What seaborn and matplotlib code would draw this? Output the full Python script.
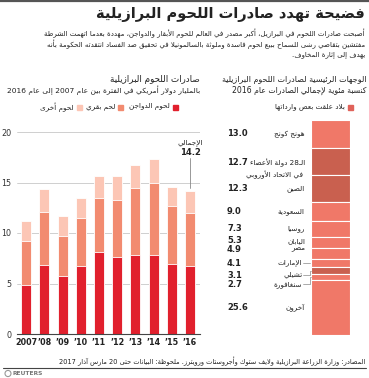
import re
import matplotlib
matplotlib.use("Agg")
import matplotlib.pyplot as plt
import matplotlib.transforms as mtransforms
import numpy as np
import pandas as pd
import seaborn as sns

# ---- dane ----
years = ["2007", "’08", "’09", "’10", "’11", "’12", "’13", "’14", "’15", "’16"]
poultry = [4.9, 6.8, 5.7, 6.7, 8.1, 7.6, 7.8, 7.8, 6.9, 6.7]
beef = [4.3, 5.3, 4.0, 4.8, 5.4, 5.7, 6.7, 7.2, 5.8, 5.3]
other = [2.0, 2.3, 1.95, 2.0, 2.1, 2.3, 2.2, 2.3, 1.9, 2.2]
total_2016 = "14.2"

countries = ["هونج كونج", "الـ28 دولة الأعضاء\nفي الاتحاد الأوروبي", "الصين", "السعودية",
             "روسيا", "اليابان", "مصر", "الإمارات", "تشيلي", "سنغافورة", "آخرون"]
shares = [13.0, 12.7, 12.3, 9.0, 7.3, 5.3, 4.9, 4.1, 3.1, 2.7, 25.6]
banned = [False, True, True, False, False, False, False, False, True, False, False]

title = "فضيحة تهدد صادرات اللحوم البرازيلية"
intro = ["أصبحت صادرات اللحوم في البرازيل، أكبر مصدر في العالم للحوم الأبقار والدواجن، مهددة بعدما اتهمت الشرطة",
         "مفتشين بتقاضي رشى للسماح ببيع لحوم فاسدة وملوثة بالسالمونيلا في تحقيق ضد الفساد انتقدته الحكومة بأنه",
         "يهدف إلى إثارة المخاوف."]
left_title = "صادرات اللحوم البرازيلية"
left_sub = "بالمليار دولار أمريكي في الفترة بين عام 2007 إلى عام 2016"
legend_names = ["لحوم الدواجن", "لحم بقري", "لحوم أخرى"]
total_word = "الإجمالي"
right_title = "الوجهات الرئيسية لصادرات اللحوم البرازيلية"
right_sub = "كنسبة مئوية لإجمالي الصادرات عام 2016"
right_legend = "بلاد علقت بعض وارداتها"
footer = "المصادر: وزارة الزراعة البرازيلية ولايف ستوك وأجروستات ورويترز. ملحوظة: البيانات حتى 20 مارس آذار 2017"

c_red = "#e1202d"
c_beef = "#f28b70"
c_other = "#fcc6b5"
c_dest = "#f07868"
c_ban = "#c9604f"

# ---- arabski: ksztalty liter + kolejnosc od prawej ----
_letters = [("ء", 0xFE80, 1), ("آ", 0xFE81, 2), ("أ", 0xFE83, 2), ("ؤ", 0xFE85, 2), ("إ", 0xFE87, 2),
            ("ئ", 0xFE89, 4), ("ا", 0xFE8D, 2), ("ب", 0xFE8F, 4), ("ة", 0xFE93, 2), ("ت", 0xFE95, 4),
            ("ث", 0xFE99, 4), ("ج", 0xFE9D, 4), ("ح", 0xFEA1, 4), ("خ", 0xFEA5, 4), ("د", 0xFEA9, 2),
            ("ذ", 0xFEAB, 2), ("ر", 0xFEAD, 2), ("ز", 0xFEAF, 2), ("س", 0xFEB1, 4), ("ش", 0xFEB5, 4),
            ("ص", 0xFEB9, 4), ("ض", 0xFEBD, 4), ("ط", 0xFEC1, 4), ("ظ", 0xFEC5, 4), ("ع", 0xFEC9, 4),
            ("غ", 0xFECD, 4), ("ف", 0xFED1, 4), ("ق", 0xFED5, 4), ("ك", 0xFED9, 4), ("ل", 0xFEDD, 4),
            ("م", 0xFEE1, 4), ("ن", 0xFEE5, 4), ("ه", 0xFEE9, 4), ("و", 0xFEED, 2), ("ى", 0xFEEF, 2),
            ("ي", 0xFEF1, 4)]
FORMS = {c: (b, n) for c, b, n in _letters}
LAMALEF = {"آ": 0xFEF5, "أ": 0xFEF7, "إ": 0xFEF9, "ا": 0xFEFB}
TATWEEL = "ـ"


def _joins_next(tok):
    c, lig = tok
    if lig is not None:
        return False
    return c == TATWEEL or (c in FORMS and FORMS[c][1] == 4)


def _joins_prev(tok):
    c, lig = tok
    if lig is not None:
        return True
    return c == TATWEEL or (c in FORMS and FORMS[c][1] >= 2)


def shape(s):
    toks = []
    i = 0
    while i < len(s):
        if s[i] == "ل" and i + 1 < len(s) and s[i + 1] in LAMALEF:
            toks.append(("LA", LAMALEF[s[i + 1]]))
            i += 2
        else:
            toks.append((s[i], None))
            i += 1
    out = []
    for k, (c, lig) in enumerate(toks):
        jp = k > 0 and _joins_next(toks[k - 1])
        if lig is not None:
            out.append(chr(lig + (1 if jp else 0)))
            continue
        if c not in FORMS:
            out.append(c)
            continue
        base, n = FORMS[c]
        jn = n == 4 and k + 1 < len(toks) and _joins_prev(toks[k + 1])
        if n == 1:
            out.append(chr(base))
        elif n == 2:
            out.append(chr(base + (1 if jp else 0)))
        else:
            f = 3 if (jp and jn) else 1 if jp else 2 if jn else 0
            out.append(chr(base + f))
    return "".join(out)


def ar(s):
    lines = []
    for line in s.split("\n"):
        shaped = shape(line)
        runs = re.split(r"([0-9A-Za-z]+(?:[.,][0-9]+)*)", shaped)
        vis = []
        for r in reversed(runs):
            if re.fullmatch(r"[0-9A-Za-z]+(?:[.,][0-9]+)*", r or "-"):
                vis.append(r)
            else:
                vis.append(r[::-1])
        lines.append("".join(vis))
    return "\n".join(lines)


# ---- rysunek ----
sns.set_theme(style="white")
plt.rcParams["font.family"] = ["DejaVu Sans"]

W, H = 369, 378
fig = plt.figure(figsize=(W / 100, H / 100), dpi=100)


def fx(x):
    return x / W


def fy(y):
    return 1 - y / H


txt = "#222222"

# gorna linia
fig.add_artist(plt.Line2D([fx(0), fx(369)], [fy(1), fy(1)], color="#555555", lw=1.6))
fig.text(fx(365), fy(14), ar(title), ha="right", va="center", fontsize=10.5, weight="bold", color=txt)
for i, line in enumerate(intro):
    fig.text(fx(365), fy(33.5 + i * 10.5), ar(line), ha="right", va="center", fontsize=5.0, color=txt)

# ---- lewy wykres ----
ax = fig.add_axes([fx(17), fy(334), fx(200) - fx(17), (21 * 10.1) / H])
df = pd.DataFrame({"year": years, "poultry": poultry, "beef": beef, "other": other})
df["mid"] = df["poultry"] + df["beef"]
df["total"] = df["mid"] + df["other"]
for col, colour in [("total", c_other), ("mid", c_beef), ("poultry", c_red)]:
    sns.barplot(data=df, x="year", y=col, color=colour, width=0.55, errorbar=None,
                edgecolor="white", linewidth=0.6, saturation=1, ax=ax)
ax.set_xlim(-0.5, 9.55)
ax.set_ylim(0, 21)
ax.set_yticks([0, 5, 10, 15, 20])
ax.set_yticklabels(["0", "5", "10", "15", "20"])
ax.yaxis.grid(True, color="#c8c8c8", lw=0.6)
ax.set_axisbelow(True)
ax.tick_params(axis="y", length=0, pad=4, labelsize=5.8, labelcolor="#333333")
ax.tick_params(axis="x", length=0, pad=3, labelsize=5.8, labelcolor=txt)
for lab in ax.get_xticklabels():
    lab.set_fontweight("bold")
ax.set_xlabel("")
ax.set_ylabel("")
for s in ["top", "right", "left"]:
    ax.spines[s].set_visible(False)
ax.spines["bottom"].set_color("#444444")
ax.spines["bottom"].set_linewidth(0.8)

last = len(years) - 1
tot = df["total"].iloc[-1]
ax.plot([last, last], [tot + 0.3, tot + 3.2], color="#888888", lw=0.6)
ax.text(last, tot + 3.75, total_2016, ha="center", va="center", fontsize=6, weight="bold", color=txt)
ax.text(last, tot + 4.75, ar(total_word), ha="center", va="center", fontsize=5.2, color=txt)

fig.text(fx(200), fy(80), ar(left_title), ha="right", va="center", fontsize=6.3, color=txt)
fig.text(fx(200), fy(90.5), ar(left_sub), ha="right", va="center", fontsize=5.4, color=txt)
for (sq_x, name, colour) in zip([175, 120, 79], legend_names, [c_red, c_beef, c_other]):
    fig.add_artist(plt.Rectangle((fx(sq_x - 2.5), fy(109.5)), fx(5), 5 / H, color=colour))
    fig.text(fx(sq_x - 5), fy(107), ar(name), ha="right", va="center", fontsize=5.2, color=txt)

# ---- prawy wykres ----
ax2 = fig.add_axes([fx(311), fy(335), fx(350) - fx(311), 215 / H])
starts = np.concatenate([[0], np.cumsum(shares)[:-1]])
colours = [c_ban if b else c_dest for b in banned]
ax2.bar(np.zeros(len(shares)), shares, bottom=starts, width=1.0, color=colours,
        edgecolor="white", linewidth=0.8)
ax2.set_xlim(-0.5, 0.5)
ax2.set_ylim(100, 0)
ax2.axis("off")

mids = starts + np.array(shares) / 2
shift = [0, 0.5, 0, 0, 0, -0.7, -1.9, 0, 2.0, 3.3, 0]
trans = mtransforms.blended_transform_factory(ax2.transAxes, ax2.transData)
lab_x = (305 - 311) / 39
val_x = (227 - 311) / 39
for i, (name, val) in enumerate(zip(countries, shares)):
    y = mids[i] + shift[i]
    if "\n" in name:
        l1, l2 = name.split("\n")
        ax2.text(lab_x, y, ar(l1), transform=trans, ha="right", va="center", fontsize=5.2,
                 color=txt, clip_on=False)
        ax2.text(lab_x - 0.05, y + 5.4, ar(l2), transform=trans, ha="right", va="center",
                 fontsize=5.2, color=txt, clip_on=False)
    else:
        x_off = -0.07 if i in (7, 8, 9) else 0
        ax2.text(lab_x + x_off, y, ar(name), transform=trans, ha="right", va="center",
                 fontsize=5.2, color=txt, clip_on=False)
    ax2.text(val_x, y, f"{val:.1f}", transform=trans, ha="left", va="center",
             fontsize=6, weight="bold", color=txt, clip_on=False)

# kreski prowadzace
ax2.plot([lab_x - 0.04, -0.02], [mids[7], mids[7]], transform=trans, color="#888888", lw=0.5, clip_on=False)
for i in (8, 9):
    y = mids[i] + shift[i]
    ax2.plot([lab_x - 0.04, -0.03, -0.03, -0.01], [y, y, mids[i], mids[i]], transform=trans,
             color="#888888", lw=0.5, clip_on=False)

fig.text(fx(367), fy(79), ar(right_title), ha="right", va="center", fontsize=5.8, color=txt)
fig.text(fx(367), fy(90), ar(right_sub), ha="right", va="center", fontsize=5.6, color=txt)
fig.add_artist(plt.Rectangle((fx(347.5), fy(109.5)), fx(5), 5 / H, color="#e0625a"))
fig.text(fx(345), fy(107), ar(right_legend), ha="right", va="center", fontsize=5.2, color=txt)

# ---- stopka ----
fig.text(fx(365), fy(361.5), ar(footer), ha="right", va="center", fontsize=4.8, color=txt)
fig.add_artist(plt.Line2D([fx(3), fx(366)], [fy(368), fy(368)], color="#444444", lw=0.8))
fig.add_artist(plt.Circle((fx(8), fy(373.5)), 3 / W, color="#999999", fill=False, lw=0.8))
fig.text(fx(13), fy(373.5), "REUTERS", ha="left", va="center", fontsize=4.3, weight="bold", color="#777777")

fig.savefig("out.png", dpi=100)
